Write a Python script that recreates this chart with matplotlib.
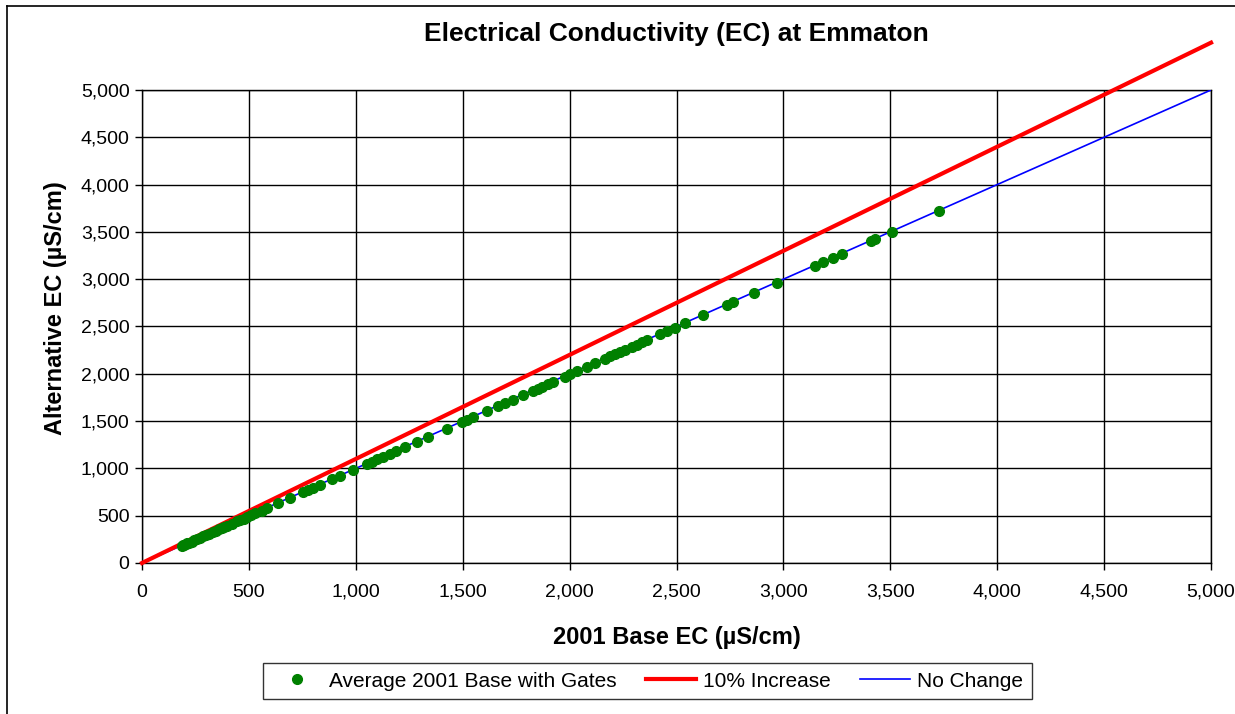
import matplotlib
matplotlib.use("Agg")
import matplotlib.pyplot as plt
from matplotlib.lines import Line2D
from matplotlib.ticker import FuncFormatter, MultipleLocator

plt.rcParams['font.family'] = ['Liberation Sans', 'DejaVu Sans']

# Daten
base_ec = [185, 192, 198, 205, 212, 220, 232, 245, 258, 270, 285, 300, 315, 330, 345, 360,
           372, 385, 398, 420, 445, 460, 475, 490, 510, 530, 560, 585, 636, 692,
           753, 775, 800, 833, 889, 926, 987, 1052, 1075, 1099, 1127, 1160, 1190, 1230,
           1286, 1338, 1427, 1497, 1520, 1548, 1614, 1665, 1698, 1735, 1782,
           1829, 1850, 1870, 1900, 1922, 1978, 2000, 2035, 2081, 2119,
           2166, 2190, 2210, 2235, 2260, 2290, 2315, 2340, 2362,
           2423, 2456, 2493, 2540, 2624, 2736, 2764, 2863, 2970,
           3148, 3185, 3232, 3274, 3410, 3430, 3508, 3728]
alt_ec = [178, 186, 192, 200, 207, 214, 226, 240, 252, 265, 280, 294, 308, 324, 340, 354,
          366, 380, 392, 414, 440, 455, 470, 484, 505, 524, 554, 580, 630, 686,
          747, 770, 795, 828, 884, 920, 980, 1046, 1070, 1094, 1122, 1155, 1184, 1224,
          1280, 1333, 1420, 1490, 1514, 1542, 1606, 1660, 1692, 1728, 1776,
          1822, 1844, 1864, 1894, 1916, 1970, 1994, 2028, 2074, 2112,
          2160, 2184, 2204, 2228, 2254, 2284, 2308, 2334, 2356,
          2416, 2450, 2486, 2534, 2618, 2730, 2758, 2856, 2964,
          3140, 3178, 3226, 3268, 3404, 3424, 3500, 3722]

line_x = [0, 5000]
increase_y = [0, 5500]
no_change_y = [0, 5000]

fig = plt.figure(figsize=(12.35, 7.14), dpi=100)
ax = fig.add_axes([0.115, 0.2115, 0.8656, 0.6625])

ax.plot(line_x, no_change_y, color='#0000ff', lw=1.2, zorder=3, label='No Change')
ax.plot(line_x, increase_y, color='#ff0000', lw=3, zorder=4, clip_on=False, label='10% Increase')
ax.plot(base_ec, alt_ec, 'o', color='#008000', ms=7, mec='#008000', zorder=5,
        label='Average 2001 Base with Gates')

ax.set_xlim(0, 5000)
ax.set_ylim(0, 5000)
ax.xaxis.set_major_locator(MultipleLocator(500))
ax.yaxis.set_major_locator(MultipleLocator(500))
fmt = FuncFormatter(lambda v, p: f"{int(v):,}")
ax.xaxis.set_major_formatter(fmt)
ax.yaxis.set_major_formatter(fmt)
ax.grid(True, color='black', lw=1.0)
ax.set_axisbelow(True)
for s in ax.spines.values():
    s.set_color('black')
    s.set_linewidth(1.0)
ax.tick_params(direction='out', length=5, width=1, labelsize=14, colors='black', pad=4)
ax.tick_params(axis='x', pad=10)

ax.set_title("Electrical Conductivity (EC) at Emmaton", fontsize=19, fontweight='bold', pad=35)
ax.set_xlabel("2001 Base EC (µS/cm)", fontsize=17, fontweight='bold', labelpad=18)
ax.set_ylabel("Alternative EC (µS/cm)", fontsize=17, fontweight='bold', labelpad=10)
ax.yaxis.label.set_y(0.539)

handles = [
    Line2D([], [], ls='none', marker='o', color='#008000', ms=7),
    Line2D([], [], color='#ff0000', lw=3),
    Line2D([], [], color='#0000ff', lw=1.2),
]
labels = ['Average 2001 Base with Gates', '10% Increase', 'No Change']
leg = fig.legend(handles, labels, loc='center', bbox_to_anchor=(0.5243, 0.0462), ncol=3,
                 fontsize=15, frameon=True, fancybox=False, edgecolor='black',
                 handlelength=2.4, columnspacing=1.4, borderpad=0.4, handletextpad=0.35)
leg.get_frame().set_linewidth(1.0)

# Rahmen um die Grafik
fig.add_artist(Line2D([7 / 1235, 7 / 1235], [0, 1 - 6 / 714], transform=fig.transFigure,
                      color='black', lw=1.2))
fig.add_artist(Line2D([7 / 1235, 1], [1 - 6 / 714, 1 - 6 / 714], transform=fig.transFigure,
                      color='black', lw=1.2))

fig.savefig("out.png", dpi=100)
